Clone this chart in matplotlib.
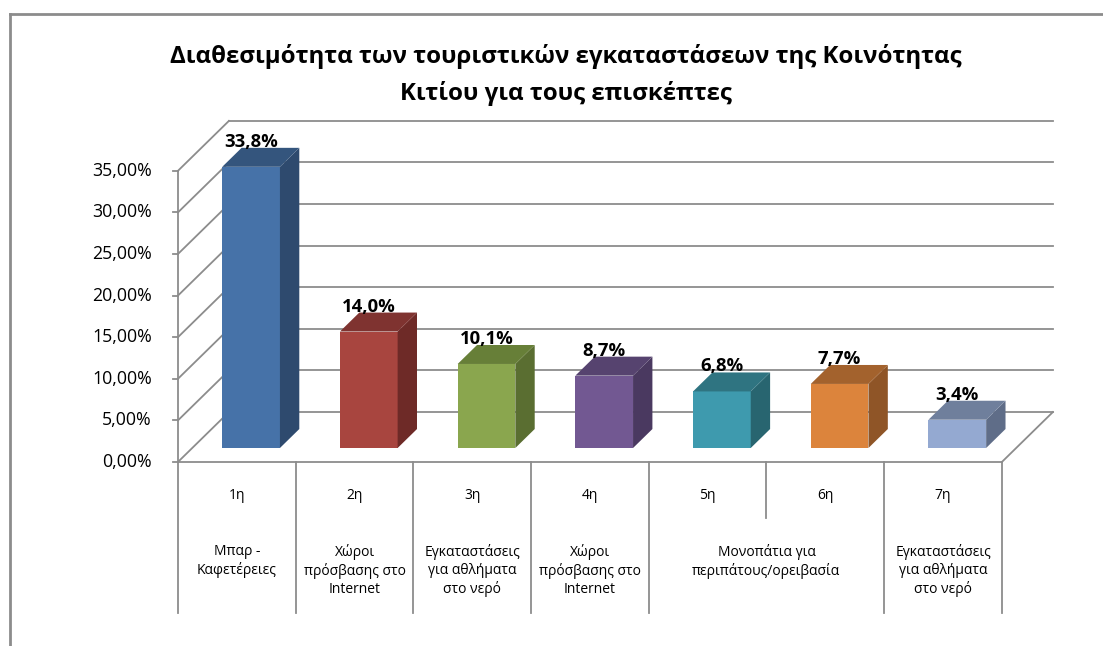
import matplotlib
matplotlib.use('Agg')
import matplotlib.pyplot as plt
from matplotlib.patches import Polygon
from matplotlib.lines import Line2D

plt.rcParams['font.family'] = ['Open Sans', 'DejaVu Sans']

# data
ranks = ['1η', '2η', '3η', '4η', '5η', '6η', '7η']
values = [33.8, 14.0, 10.1, 8.7, 6.8, 7.7, 3.4]
value_labels = ['33,8%', '14,0%', '10,1%', '8,7%', '6,8%', '7,7%', '3,4%']
group_names = ['Μπαρ -\nΚαφετέρειες', 'Χώροι\nπρόσβασης στο\nInternet',
               'Εγκαταστάσεις\nγια αθλήματα\nστο νερό', 'Χώροι\nπρόσβασης στο\nInternet',
               'Μονοπάτια για\nπεριπάτους/ορειβασία', 'Εγκαταστάσεις\nγια αθλήματα\nστο νερό']
group_sizes = [1, 1, 1, 1, 2, 1]
y_ticks = [0, 5, 10, 15, 20, 25, 30, 35]
y_tick_labels = ['0,00%', '5,00%', '10,00%', '15,00%', '20,00%', '25,00%', '30,00%', '35,00%']

front_colors = ['#4672A8', '#A8453F', '#8AA64E', '#725892', '#3E9AAE', '#DC843C', '#94A9D1']
side_colors = ['#2E4A6E', '#6E2A27', '#5A6E31', '#4A3960', '#286570', '#8F5527', '#5F6D88']
top_colors = ['#34557D', '#7F3330', '#677F38', '#56436F', '#2F7481', '#A3622D', '#6F7F9C']

grid_c = '#8C8C8C'

# 3D look: depth offsets in data units
DX, DY = 0.433, 6.0
z0, z1 = 0.28, 0.66
bar_w = 0.49

fig = plt.figure(figsize=(11.03, 6.46), dpi=100)
ax = fig.add_axes([0, 0, 1, 1])
ax.set_xlim(-1.512, 7.859)
ax.set_ylim(-22.12, 55.53)
ax.axis('off')

n = len(values)
top = max(y_ticks)

# back wall + left wall gridlines
for t in y_ticks:
    ax.plot([DX, n + DX], [t + DY, t + DY], color=grid_c, lw=1.3, zorder=1)
    ax.plot([0, DX], [t, t + DY], color=grid_c, lw=1.3, zorder=1)
# floor
ax.plot([0, n], [0, 0], color=grid_c, lw=1.3, zorder=1)
ax.plot([n, n + DX], [0, DY], color=grid_c, lw=1.3, zorder=1)
# front vertical axis + ticks
ax.plot([0, 0], [0, top], color=grid_c, lw=1.3, zorder=1)
for t, lab in zip(y_ticks, y_tick_labels):
    ax.plot([-0.045, 0], [t, t], color=grid_c, lw=1.3, zorder=1)
    ax.text(-0.221, t, lab, ha='right', va='center', fontsize=12.8, color='black')

# bars
centers = [i + 0.5 for i in range(n)]
fx, fy = z0 * DX, z0 * DY
bx, by = (z1 - z0) * DX, (z1 - z0) * DY
ax.bar([c + fx for c in centers], values, width=bar_w, bottom=fy,
       color=front_colors, zorder=3)
for i, (c, v) in enumerate(zip(centers, values)):
    x0 = c - bar_w / 2 + fx
    x1 = c + bar_w / 2 + fx
    y0, y1 = fy, fy + v
    ax.add_patch(Polygon([(x1, y0), (x1 + bx, y0 + by), (x1 + bx, y1 + by), (x1, y1)],
                         closed=True, facecolor=side_colors[i], edgecolor='none', zorder=3))
    ax.add_patch(Polygon([(x0, y1), (x1, y1), (x1 + bx, y1 + by), (x0 + bx, y1 + by)],
                         closed=True, facecolor=top_colors[i], edgecolor='none', zorder=3))
    ax.text(c + fx, y1 + 3.0, value_labels[i], ha='center', va='center',
            fontsize=13.3, fontweight='bold', zorder=4)

# category axis: ranks and group names
row1_y = -3.97
row2_y = -9.8
sep_bottom = -18.15
short_bottom = -6.73
for c, r in zip(centers, ranks):
    ax.text(c, row1_y, r, ha='center', va='center', fontsize=10)

pos = 0
ax.plot([0, 0], [0, sep_bottom], color=grid_c, lw=1.3)
for name, size in zip(group_names, group_sizes):
    ax.text(pos + size / 2, row2_y, name, ha='center', va='top', fontsize=10,
            linespacing=1.3)
    for k in range(1, size):
        ax.plot([pos + k, pos + k], [0, short_bottom], color=grid_c, lw=1.3)
    pos += size
    ax.plot([pos, pos], [0, sep_bottom], color=grid_c, lw=1.3)

# title
fig.text(0.513, 0.884, 'Διαθεσιμότητα των τουριστικών εγκαταστάσεων της Κοινότητας\nΚιτίου για τους επισκέπτες',
         ha='center', va='center', fontsize=17.3, fontweight='bold', linespacing=1.6)

# chart border (top and left visible)
fig.add_artist(Line2D([10 / 1103, 1.0], [1 - 14 / 646, 1 - 14 / 646], color='#8C8C8C', lw=2))
fig.add_artist(Line2D([10 / 1103, 10 / 1103], [0, 1 - 14 / 646], color='#8C8C8C', lw=2))

fig.savefig('out.png', dpi=100)
